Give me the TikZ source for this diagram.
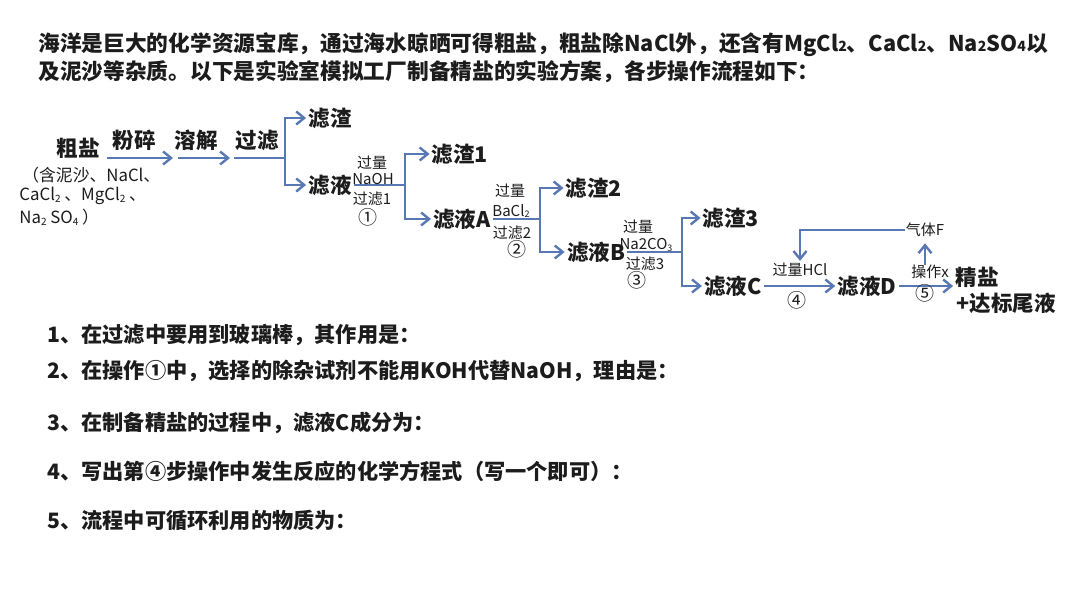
\documentclass[tikz,border=0pt]{standalone}
\usepackage{fontspec}
\usepackage{graphicx}
\setmainfont{Noto Sans CJK SC}
\usetikzlibrary{arrows.meta}
\definecolor{flowblue}{HTML}{5878B4}
\definecolor{ink}{HTML}{1C1C1C}
\newcommand\smallsub[1]{\raisebox{-0.2ex}{\scalebox{0.6}{#1}}}
\newcommand\basesub[1]{\scalebox{0.65}{#1}}
\begin{document}
\begin{tikzpicture}[x=0.5pt,y=-0.5pt,
  titletext/.style={anchor=west, inner sep=0pt, text=ink, font=\fontsize{10.85}{13}\selectfont\bfseries},
  ques/.style={anchor=west, inner sep=0pt, text=ink, font=\fontsize{10.6}{13}\selectfont\bfseries},
  lbl/.style={inner sep=1pt, text=ink, font=\fontsize{10.75}{12}\selectfont\bfseries},
  cond/.style={inner sep=0pt, text=ink, font=\fontsize{7.5}{9}\selectfont},
  circ/.style={inner sep=0pt, text=ink, font=\fontsize{9.5}{10}\selectfont},
  note/.style={anchor=west, inner sep=0pt, text=ink, font=\fontsize{8.4}{10}\selectfont},
  flow/.style={draw=flowblue, line width=1.2pt},
  arr/.style={flow, -{Straight Barb[length=4pt,width=6.5pt]}}]
\fill[white] (0,0) rectangle (1080,608);
\useasboundingbox (0,0) rectangle (1080,608);

% title
\node[titletext] (t1) at (38,45) {海洋是巨大的化学资源宝库，通过海水晾晒可得粗盐，粗盐除NaCl外，还含有MgCl\basesub{2}、CaCl\basesub{2}、Na\basesub{2}SO\basesub{4}以};
\node[titletext] (t2) at (38,72) {及泥沙等杂质。以下是实验室模拟工厂制备精盐的实验方案，各步操作流程如下：};

% raw salt
\node[lbl] (c0) at (78,148) {粗盐};
\node[note] (n1) at (22,175) {（含泥沙、NaCl、};
\node[note] (n2) at (19,196) {CaCl\smallsub{2}\ 、MgCl\smallsub{2}\ 、};
\node[note] (n3) at (19,217) {Na\smallsub{2}\ SO\smallsub{4}\ ）};

% first steps
\coordinate (s1) at (107,158); \coordinate (e1) at (173,158);
\coordinate (s2) at (178,158); \coordinate (e2) at (230,158);
\coordinate (s3) at (234,158); \coordinate (j1) at (285,158);
\node[lbl] (fs) at (134,140) {粉碎};
\node[lbl] (rj) at (196,140) {溶解};
\node[lbl] (gl) at (257,140) {过滤};
\draw[arr] (s1) -- (e1);
\draw[arr] (s2) -- (e2);
\draw[flow] (s3) -- (j1);
\node[lbl] (zz0) at (330,118) {滤渣};
\node[lbl] (zy0) at (330,185) {滤液};
\draw[arr] (j1) |- (zz0);
\draw[arr] (j1) |- (zy0);

% step 1
\coordinate (j2) at (405,185);
\draw[flow] (zy0) -- (j2);
\node[cond] (k1a) at (372,163) {过量};
\node[cond] (k1b) at (373,179) {NaOH};
\node[cond] (k1c) at (372,199) {过滤1};
\node[circ] (k1d) at (368,217) {①};
\node[lbl] (zz1) at (460,154) {滤渣1};
\node[lbl] (zyA) at (462,219) {滤液A};
\draw[arr] (j2) |- (zz1);
\draw[arr] (j2) |- (zyA);

% step 2
\coordinate (j3) at (540,219);
\draw[flow] (zyA) -- (j3);
\node[cond] (k2a) at (510,191) {过量};
\node[cond] (k2b) at (511,211) {BaCl\smallsub{2}};
\node[cond] (k2c) at (512,233) {过滤2};
\node[circ] (k2d) at (517,249) {②};
\node[lbl] (zz2) at (594,188) {滤渣2};
\node[lbl] (zyB) at (596,252) {滤液B};
\draw[arr] (j3) |- (zz2);
\draw[arr] (j3) |- (zyB);

% step 3
\coordinate (j4) at (682,252);
\draw[flow] (zyB) -- (j4);
\node[cond] (k3a) at (638,227) {过量};
\node[cond] (k3b) at (646,245) {Na2CO\smallsub{3}};
\node[cond] (k3c) at (645,264) {过滤3};
\node[circ] (k3d) at (637,280) {③};
\node[lbl] (zz3) at (731,218) {滤渣3};
\node[lbl] (zyC) at (733,286) {滤液C};
\draw[arr] (j4) |- (zz3);
\draw[arr] (j4) |- (zyC);

% step 4
\node[lbl] (zyD) at (867,286) {滤液D};
\draw[arr] (zyC) -- (zyD);
\node[cond] (hcl) at (800,270) {过量HCl};
\node[circ] (k4) at (797,300) {④};

% step 5
\node[lbl] (jy) at (977,277) {精盐};
\node[lbl] (wy) at (1006,303) {+达标尾液};
\draw[arr] (zyD) -- (zyD -| jy.west);
\node[cond] (opx) at (930,272) {操作x};
\node[circ] (k5) at (925,293) {⑤};
\node[cond] (gasF) at (925,230) {气体F};
\draw[arr, shorten >=3pt] (gasF.south |- opx.north) -- (gasF.south);
\draw[arr, shorten >=1pt] (gasF.west) -| (hcl.north);

% questions
\node[ques] (q1) at (47,335) {1、在过滤中要用到玻璃棒，其作用是：};
\node[ques] (q2) at (47,371) {2、在操作①中，选择的除杂试剂不能用KOH代替NaOH，理由是：};
\node[ques] (q3) at (47,423) {3、在制备精盐的过程中，滤液C成分为：};
\node[ques] (q4) at (47,471) {4、写出第④步操作中发生反应的化学方程式（写一个即可）：};
\node[ques] (q5) at (47,521) {5、流程中可循环利用的物质为：};
\end{tikzpicture}
\end{document}
